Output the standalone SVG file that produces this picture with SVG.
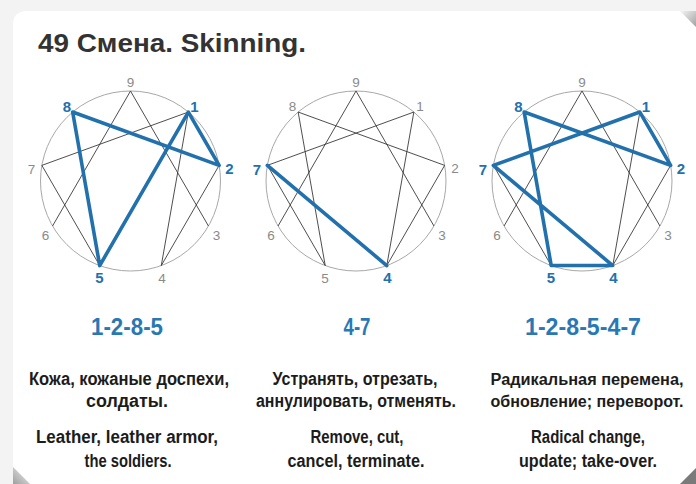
<svg xmlns="http://www.w3.org/2000/svg" width="696" height="484" viewBox="0 0 696 484">
<defs>
<style>
.title{font-family:"Liberation Sans",Arial,sans-serif;font-weight:bold;font-size:25px;fill:#333}
.circ{fill:none;stroke:#a8a8a8;stroke-width:1}
.thin{stroke:#3a3a3a;stroke-width:0.9;fill:none}
.blue{stroke:#2271ad;stroke-width:3.6;fill:none;stroke-linecap:round;stroke-linejoin:round}
.lg{font-family:"Liberation Sans",Arial,sans-serif;font-size:13.5px;fill:#8a8a8a;text-anchor:middle}
.lb{font-family:"Liberation Sans",Arial,sans-serif;font-size:15px;font-weight:bold;fill:#2271ad;text-anchor:middle}
.num{font-family:"Liberation Sans",Arial,sans-serif;font-size:23px;font-weight:bold;fill:#2a78b3;text-anchor:middle}
.txt{font-family:"Liberation Sans",Arial,sans-serif;font-size:18px;font-weight:bold;fill:#1c1c1c;text-anchor:middle}
.txs{font-size:16px}
</style>
<linearGradient id="tr" x1="0" y1="0" x2="1" y2="1">
<stop offset="0" stop-color="#f6f6f6"/><stop offset="1" stop-color="#8c8c8c"/>
</linearGradient>
<linearGradient id="bl" x1="1" y1="0" x2="0" y2="1">
<stop offset="0" stop-color="#f2f2f2"/><stop offset="1" stop-color="#8a8a8a"/>
</linearGradient>
<g id="base">
<circle class="circ" cx="0" cy="0" r="90"/>
<path class="thin" d="M0,-90 L77.94,45 M0,-90 L-77.94,45 M57.85,-68.94 L30.78,84.57 M57.85,-68.94 L-88.63,-15.63 M88.63,-15.63 L30.78,84.57 M88.63,-15.63 L-57.85,-68.94 M-57.85,-68.94 L-30.78,84.57 M-88.63,-15.63 L-30.78,84.57"/>
</g>
</defs>
<rect x="0" y="0" width="696" height="484" fill="#f3f3f3"/>
<path d="M13,25 Q13,11 27,11 L680,11 L696,27 L696,484 L30,484 L13,467 Z" fill="#ffffff"/>
<path d="M680,11 L696,11 L696,27 Z" fill="url(#tr)" opacity="0.8"/>
<path d="M13,467 L30,484 L13,484 Z" fill="url(#bl)" opacity="0.8"/>
<path d="M696,468 L696,484 L680,484 Z" fill="#7a7a7a"/>
<text class="title" x="38" y="52" textLength="268" lengthAdjust="spacingAndGlyphs">49 Смена. Skinning.</text>

<g id="diagram1" transform="translate(130.5,181)">
<use href="#base"/>
<path class="blue" d="M57.85,-68.94 L88.63,-15.63 L-57.85,-68.94 L-30.78,84.57 Z"/>
<text class="lg" x="0" y="-94">9</text>
<text class="lb" x="64" y="-69.5">1</text>
<text class="lb" x="99" y="-7.5">2</text>
<text class="lg" x="86" y="59">3</text>
<text class="lg" x="31.5" y="101.5">4</text>
<text class="lb" x="-31" y="102">5</text>
<text class="lg" x="-85" y="59">6</text>
<text class="lg" x="-99" y="-7">7</text>
<text class="lb" x="-63.5" y="-69.5">8</text>
</g>

<g id="diagram2" transform="translate(356,181)">
<use href="#base"/>
<path class="blue" d="M-88.63,-15.63 L30.78,84.57"/>
<text class="lg" x="0" y="-94">9</text>
<text class="lg" x="64" y="-70">1</text>
<text class="lg" x="99" y="-8">2</text>
<text class="lg" x="86" y="59">3</text>
<text class="lb" x="31.5" y="102">4</text>
<text class="lg" x="-31" y="101.5">5</text>
<text class="lg" x="-85" y="59">6</text>
<text class="lb" x="-99" y="-6.5">7</text>
<text class="lg" x="-63.5" y="-70">8</text>
</g>

<g id="diagram3" transform="translate(582,181)">
<use href="#base"/>
<path class="blue" d="M57.85,-68.94 L88.63,-15.63 L-57.85,-68.94 L-30.78,84.57 L30.78,84.57 L-88.63,-15.63 Z"/>
<text class="lg" x="0" y="-94">9</text>
<text class="lb" x="64" y="-69.5">1</text>
<text class="lb" x="99" y="-7.5">2</text>
<text class="lg" x="86" y="59">3</text>
<text class="lb" x="31.5" y="102">4</text>
<text class="lb" x="-31" y="102">5</text>
<text class="lg" x="-85" y="59">6</text>
<text class="lb" x="-99" y="-6.5">7</text>
<text class="lb" x="-63.5" y="-69.5">8</text>
</g>

<g id="caption1">
<text class="num" x="127" y="335" textLength="72" lengthAdjust="spacingAndGlyphs">1-2-8-5</text>
<text class="txt" x="129" y="385" textLength="200" lengthAdjust="spacingAndGlyphs">Кожа, кожаные доспехи,</text>
<text class="txt" x="127" y="407" textLength="82" lengthAdjust="spacingAndGlyphs">солдаты.</text>
<text class="txt" x="127" y="443" textLength="182" lengthAdjust="spacingAndGlyphs">Leather, leather armor,</text>
<text class="txt" x="128" y="467" textLength="87" lengthAdjust="spacingAndGlyphs">the soldiers.</text>
</g>
<g id="caption2">
<text class="num" x="357" y="335" textLength="27" lengthAdjust="spacingAndGlyphs">4-7</text>
<text class="txt" x="355" y="385" textLength="165" lengthAdjust="spacingAndGlyphs">Устранять, отрезать,</text>
<text class="txt" x="356" y="407" textLength="200" lengthAdjust="spacingAndGlyphs">аннулировать, отменять.</text>
<text class="txt" x="357" y="443" textLength="93" lengthAdjust="spacingAndGlyphs">Remove, cut,</text>
<text class="txt" x="356" y="467" textLength="137" lengthAdjust="spacingAndGlyphs">cancel, terminate.</text>
</g>
<g id="caption3">
<text class="num" x="583" y="335" textLength="116" lengthAdjust="spacingAndGlyphs">1-2-8-5-4-7</text>
<text class="txt txs" x="587" y="385" textLength="193" lengthAdjust="spacingAndGlyphs">Радикальная перемена,</text>
<text class="txt txs" x="587" y="407" textLength="193" lengthAdjust="spacingAndGlyphs">обновление; переворот.</text>
<text class="txt" x="588" y="443" textLength="114" lengthAdjust="spacingAndGlyphs">Radical change,</text>
<text class="txt" x="588" y="467" textLength="138" lengthAdjust="spacingAndGlyphs">update; take-over.</text>
</g>
</svg>
